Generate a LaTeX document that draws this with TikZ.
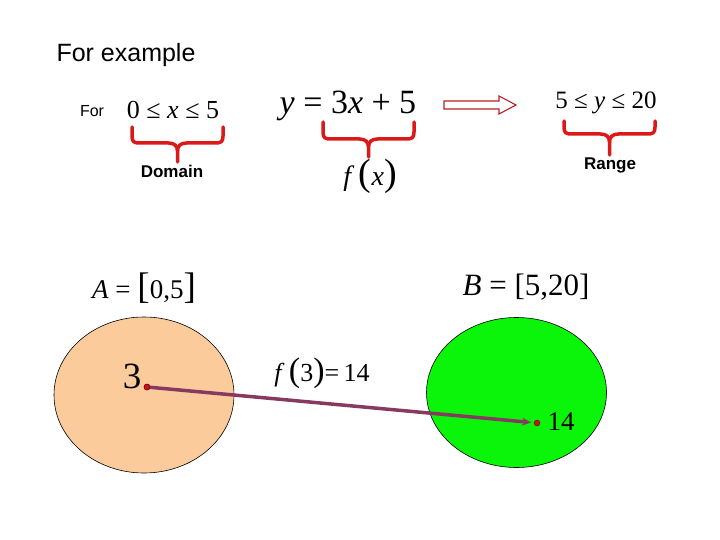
\documentclass[tikz,border=0pt]{standalone}
\usepackage{fontspec}
\setmainfont{Liberation Serif}
\newfontfamily\arialf{Liberation Sans}
\usetikzlibrary{arrows.meta}
\definecolor{bracered}{RGB}{220,25,25}
\definecolor{peach}{RGB}{251,203,156}
\definecolor{brightgreen}{RGB}{10,245,10}
\definecolor{mapline}{RGB}{135,58,95}
\definecolor{dotred}{RGB}{200,20,20}
\definecolor{arrowred}{RGB}{185,30,40}
\newcommand\fsz[1]{\fontsize{#1}{#1}\selectfont}
\newcommand\redbrace[5]{%
  \pgfmathsetmacro\bxm{(#1+#2)/2}%
  \draw[bracestyle] (#1,#3) -- (#1,{#4-7}) .. controls (#1,{#4-1}) and ({#1+2},#4) .. ({#1+8},#4)
    -- ({\bxm-9},#4) .. controls ({\bxm-3},#4) and (\bxm,{#4+3}) .. (\bxm,{#4+8}) -- (\bxm,#5);
  \draw[bracestyle] (#2,#3) -- (#2,{#4-7}) .. controls (#2,{#4-1}) and ({#2-2},#4) .. ({#2-8},#4)
    -- ({\bxm+9},#4) .. controls ({\bxm+3},#4) and (\bxm,{#4+3}) .. (\bxm,{#4+8});
}
\tikzset{
  txt/.style={inner sep=0pt, anchor=center},
  sanslbl/.style={txt, font=\arialf\fsz{#1}},
  boldlbl/.style={txt, font=\arialf\bfseries\fsz{17}},
  mathlbl/.style={txt, font=\fsz{#1}},
  bracestyle/.style={draw=bracered, line width=3.5pt, line cap=round, line join=round},
  setA/.style={draw=black, line width=0.6pt, fill=peach},
  setB/.style={draw=black, line width=0.6pt, fill=brightgreen},
  pt/.style={circle, fill=dotred, draw=black!60!red, line width=0.4pt, inner sep=0pt, minimum size=6pt},
  maparrow/.style={draw=mapline, line width=3.5pt, -{Stealth[length=9pt,width=8pt]}},
  hollow/.style={draw=arrowred, line width=1.1pt, fill=white, line join=miter}
}
\begin{document}
\begin{tikzpicture}[x=1pt,y=-1pt]
\useasboundingbox[fill=white] (0,0) rectangle (720,540);

% titles
\node[sanslbl=25] (ex) at (126,55) {For example};
\node[sanslbl=16] (for) at (92,111) {For};

% domain
\node[mathlbl=26] (dom) at (173,110) {0 ≤ \textit{x} ≤ 5};
\redbrace{132}{223}{127}{143}{162}
\node[boldlbl] (domlbl) at (172,171) {Domain};

% function
\node[mathlbl=34] (eq) at (348,106) {\textit{y} = 3\textit{x} + 5};
\redbrace{323}{414}{122}{139}{157}
\node[mathlbl=28] (fx) at (370,176) {\textit{f}\,{\fsz{38}(}\textit{x}{\fsz{38})}};

% hollow arrow
\draw[hollow] (444,101) -- (499,101) -- (499,96) -- (516,105) -- (499,114) -- (499,109) -- (444,109) -- cycle;

% range
\node[mathlbl=25] (rng) at (606,103) {5 ≤ \textit{y} ≤ 20};
\redbrace{564}{655}{121}{134}{155}
\node[boldlbl] (rnglbl) at (610,165) {Range};

% sets
\node[mathlbl=27] (Albl) at (144,288) {\textit{A} = {\fsz{37}[}0,5{\fsz{37}]}};
\node[mathlbl=31] (Blbl) at (526,287) {\textit{B} = [5,20]};

\draw[setA] (144,395) ellipse [x radius=90, y radius=78];
\draw[setB] (516.5,392.5) ellipse [x radius=90, y radius=75];

\node[mathlbl=26] (f3) at (322,373) {\textit{f}\,{\fsz{34}(}3{\fsz{34})}=\,14};

\node[mathlbl=37] (three) at (132,376) {3};
\node[mathlbl=27] (fourteen) at (561,422) {14};

\node[pt] (p3) at (147,387) {};
\node[pt] (p14) at (537,423) {};
\draw[maparrow, shorten >=6pt] (p3.center) -- (p14.center);
\node[pt] at (147,387) {};
\end{tikzpicture}
\end{document}
